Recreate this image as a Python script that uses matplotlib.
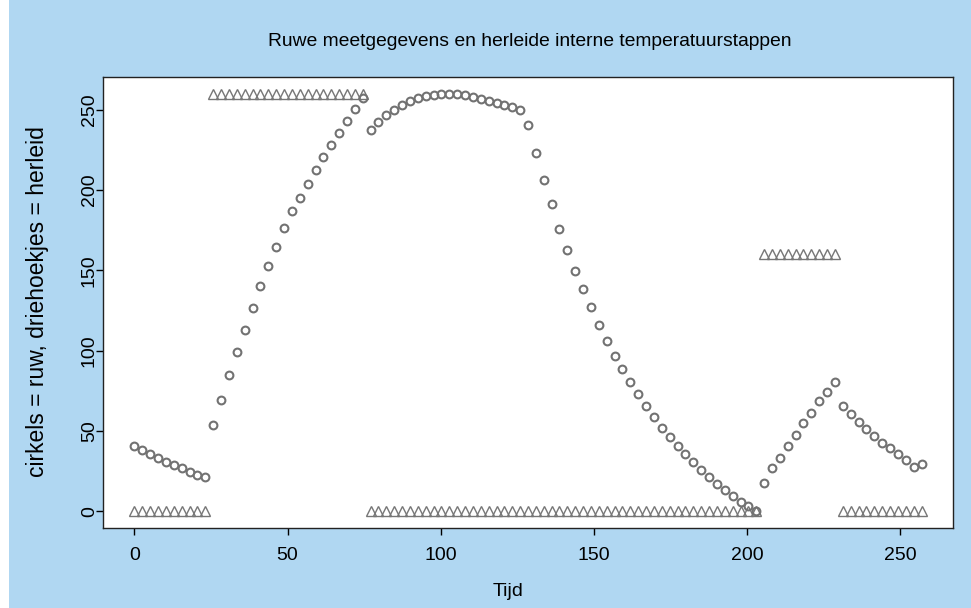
import numpy as np
import matplotlib
matplotlib.use("Agg")
import matplotlib.pyplot as plt
from matplotlib.patches import Rectangle

plt.rcParams['font.family'] = ['Liberation Sans', 'DejaVu Sans']

# ---- data ----
tijd_stap = 2.57
ruw_seg1 = [40.5, 38.0, 35.8, 33.2, 30.9, 28.8, 26.7, 24.7, 22.9, 21.2]
ruw_seg2 = [54.0, 69.0, 84.6, 99.1, 113.1, 126.6, 140.4, 152.8, 164.5, 176.6,
            186.9, 195.2, 203.9, 212.2, 220.4, 228.1, 235.3, 242.7, 250.4, 257.6]
ruw_seg3 = [237.2, 242.1, 246.5, 249.8, 253.1, 255.6, 257.3, 258.5, 259.3, 259.7,
            259.9, 259.9, 259.3, 258.1, 256.8, 255.6, 254.3, 253.1, 251.9, 250.0,
            240.7, 222.9, 206.1, 191.1, 176.0, 162.7, 149.7, 138.3, 127.0, 116.2,
            106.1, 97.0, 88.3, 80.5, 73.2, 65.6, 58.7, 52.1, 46.3, 40.5,
            35.5, 30.4, 25.6, 21.5, 16.9, 13.2, 9.5, 6.0, 3.3, 0.0]
ruw_seg4 = [17.8, 27.1, 33.3, 40.5, 47.8, 55.0, 61.4, 68.4, 74.3, 80.8]
ruw_seg5 = [65.6, 60.4, 55.6, 51.1, 47.0, 42.6, 39.1, 35.8, 32.1, 27.5, 29.2]

herleid_seg1 = [0] * 10
herleid_seg2 = [260] * 20
herleid_seg3 = [0] * 50
herleid_seg4 = [160] * 10
herleid_seg5 = [0] * 11

ruw = np.array(ruw_seg1 + ruw_seg2 + ruw_seg3 + ruw_seg4 + ruw_seg5)
herleid = np.array(herleid_seg1 + herleid_seg2 + herleid_seg3 + herleid_seg4 + herleid_seg5)
tijd = np.arange(len(ruw)) * tijd_stap

x_ticks = [0, 50, 100, 150, 200, 250]
y_ticks = [0, 50, 100, 150, 200, 250]

titel = "Ruwe meetgegevens en herleide interne temperatuurstappen"
x_label = "Tijd"
y_label = "cirkels = ruw, driehoekjes = herleid"

# ---- figure ----
W, H = 971, 608
bg = '#b0d7f2'
fig = plt.figure(figsize=(W / 100, H / 100), dpi=100, facecolor=bg)
fig.patches.append(Rectangle((0, 0), 9 / W, 1, transform=fig.transFigure,
                             facecolor='white', edgecolor='none', zorder=-1))

ax = fig.add_axes([103 / W, 1 - 528 / H, (953 - 103) / W, (528 - 77) / H])
ax.set_facecolor('white')

ax.plot(tijd, herleid, linestyle='none', marker='^', markersize=7.3,
        markerfacecolor='none', markeredgecolor='#767676', markeredgewidth=1.0)
ax.plot(tijd, ruw, linestyle='none', marker='o', markersize=5.6,
        markerfacecolor='none', markeredgecolor='#727272', markeredgewidth=1.5)

xmin, xmax = tijd.min(), tijd.max()
ymin = min(ruw.min(), herleid.min())
ymax = max(ruw.max(), herleid.max())
dx = 0.04 * (xmax - xmin)
dy = 0.04 * (ymax - ymin)
ax.set_xlim(xmin - dx, xmax + dx)
ax.set_ylim(ymin - dy, ymax + dy)

ax.set_xticks(x_ticks)
ax.set_yticks(y_ticks)
ax.tick_params(axis='both', direction='out', length=5.2, width=1.0,
               labelsize=14, color='black')
ax.tick_params(axis='x', pad=8.5)
ax.tick_params(axis='y', pad=-1.5)
for lab in ax.get_yticklabels():
    lab.set_rotation(90)
    lab.set_va('center')
for sp in ax.spines.values():
    sp.set_linewidth(1.0)
    sp.set_color('#222222')

fig.text(530 / W, 1 - 41 / H, titel, ha='center', va='center', fontsize=13.9)
fig.text(508 / W, 1 - 591 / H, x_label, ha='center', va='center', fontsize=14)
fig.text(38 / W, 1 - 302 / H, y_label, ha='center', va='center',
         rotation=90, fontsize=16.5)

fig.savefig('out.png', dpi=100, facecolor=bg)
